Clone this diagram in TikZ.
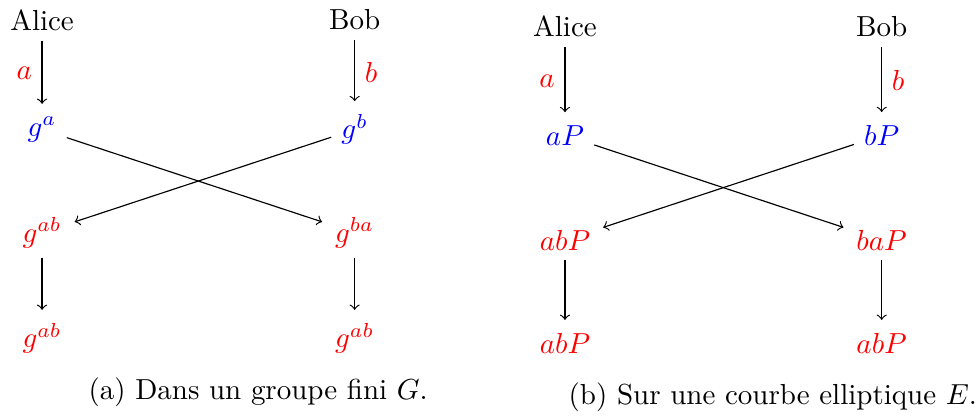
\documentclass[tikz,border=0pt]{standalone}
\usepackage{amsmath,amssymb}
\usepackage{tikz}

\tikzset{
  pub/.style={text=blue},
  sec/.style={text=red},
  arr/.style={->, shorten >=1pt}
}

\begin{document}
\begin{tikzpicture}[every node/.style={font=\normalsize}]
  \useasboundingbox (0,0) rectangle (11.87,5.04);
  % (a) groupe fini
  \node (aliceA) at (0.51,4.80) {Alice};
  \node (bobA)   at (4.30,4.80) {Bob};
  \node[pub] (ga)  at (0.51,3.47) {$g^a$};
  \node[pub] (gb)  at (4.30,3.47) {$g^b$};
  \node[sec] (gab) at (0.51,2.22) {$g^{ab}$};
  \node[sec] (gba) at (4.30,2.22) {$g^{ba}$};
  \node[sec] (kA)  at (0.51,0.94) {$g^{ab}$};
  \node[sec] (kB)  at (4.30,0.94) {$g^{ab}$};
  \draw[arr] (aliceA) -- node[left, sec]  {$a$} (ga);
  \draw[arr] (bobA)   -- node[right, sec] {$b$} (gb);
  \draw[arr] (ga) -- (gba);
  \draw[arr] (gb) -- (gab);
  \draw[arr] (gab) -- (kA);
  \draw[arr] (gba) -- (kB);
  \node (capA) at (3.13,0.28) {(a) Dans un groupe fini $G$.};
  % (b) courbe elliptique
  \node (aliceE) at (6.85,4.72) {Alice};
  \node (bobE)   at (10.69,4.72) {Bob};
  \node[pub] (aP)  at (6.85,3.40) {$aP$};
  \node[pub] (bP)  at (10.69,3.40) {$bP$};
  \node[sec] (abP) at (6.85,2.13) {$abP$};
  \node[sec] (baP) at (10.69,2.13) {$baP$};
  \node[sec] (kE)  at (6.85,0.88) {$abP$};
  \node[sec] (kF)  at (10.69,0.88) {$abP$};
  \draw[arr] (aliceE) -- node[left, sec]  {$a$} (aP);
  \draw[arr] (bobE)   -- node[right, sec] {$b$} (bP);
  \draw[arr] (aP) -- (baP);
  \draw[arr] (bP) -- (abP);
  \draw[arr] (abP) -- (kE);
  \draw[arr] (baP) -- (kF);
  \node (capE) at (9.37,0.22) {(b) Sur une courbe elliptique $E$.};
\end{tikzpicture}
\end{document}
